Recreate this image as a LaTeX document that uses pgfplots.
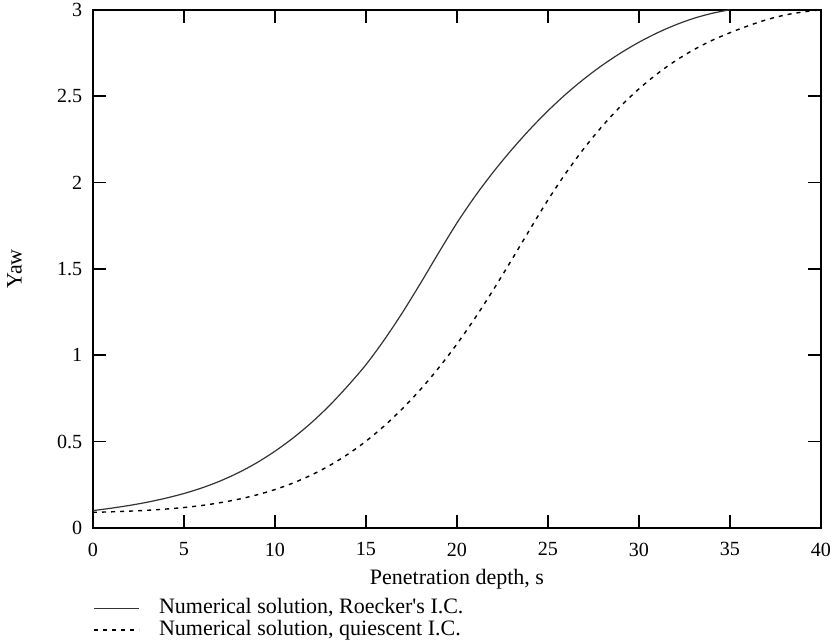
\documentclass[border=0pt,11pt]{standalone}
\usepackage{pgfplots}
\pgfplotsset{compat=1.18}
\usepackage{fontspec}
\setmainfont{Liberation Serif}[Ligatures=TeXOff]
\begin{document}
\begin{tikzpicture}
\begin{axis}[
  scale only axis,
  width=362.5pt, height=258pt,
  xmin=0, xmax=40, ymin=0, ymax=3,
  xtick={0,5,...,40},
  ytick={0,0.5,1,1.5,2,2.5,3},
  yticklabels={0,0.5,1,1.5,2,2.5,3},
  /pgf/number format/assume math mode=true,
  tick label style={font=\fontsize{10}{12}\selectfont},
  xticklabel style={inner xsep=0pt, yshift=-3.5pt},
  yticklabel style={inner ysep=1.5pt, xshift=-1.5pt},
  tick align=inside,
  major tick length=6.5pt,
  axis line style={line width=1pt},
  every tick/.style={black, line width=0.8pt},
  xlabel={Penetration depth, s},
  ylabel={Yaw},
  x label style={at={(axis description cs:0.5,-0.1085)}, anchor=base},
  y label style={at={(axis description cs:-0.1076,0.5)}, anchor=center},
  legend style={draw=none, fill=none, at={(axis description cs:0,-0.1337)}, anchor=north west,
    inner xsep=0pt, inner ysep=0pt, row sep=0.5pt,
    nodes={inner sep=0pt, text height=8pt, text depth=2.5pt},
    /tikz/every odd column/.append style={column sep=9.5pt}},
  legend cell align=left,
  legend image code/.code={\draw[#1] (0pt,0pt) -- (22.5pt,0pt);},
]
\addplot[black!80, line width=0.6pt, smooth] coordinates {
(0,0.100) (1,0.114) (2,0.130) (3,0.149) (4,0.172) (5,0.199) (6,0.232) (7,0.272) (8,0.320)
(9,0.377) (10,0.444) (11,0.521) (12,0.609) (13,0.709) (14,0.822) (15,0.945) (16,1.088)
(17,1.246) (18,1.417) (19,1.594) (20,1.766) (21,1.921) (22,2.061) (23,2.189) (24,2.307)
(25,2.415) (26,2.513) (27,2.601) (28,2.680) (29,2.750) (30,2.812) (31,2.866) (32,2.912)
(33,2.950) (34,2.979) (35,3.000)
};
\addlegendentry{Numerical solution, Roecker's I.C.}
\addplot[black, line width=0.7pt, smooth, dash pattern=on 2pt off 2.5pt] coordinates {
(0,0.090) (1,0.093) (2,0.097) (3,0.102) (4,0.109) (5,0.118) (6,0.130) (7,0.146) (8,0.166)
(9,0.191) (10,0.222) (11,0.260) (12,0.306) (13,0.361) (14,0.426) (15,0.502) (16,0.590)
(17,0.690) (18,0.802) (19,0.927) (20,1.065) (21,1.216) (22,1.379) (23,1.551) (24,1.727)
(25,1.899) (26,2.057) (27,2.200) (28,2.328) (29,2.442) (30,2.542) (31,2.629) (32,2.704)
(33,2.768) (34,2.822) (35,2.867) (36,2.907) (37,2.942) (38,2.969) (39,2.987) (40,3.000)
};
\addlegendentry{Numerical solution, quiescent I.C.}
\path (axis description cs:0,0) ++(0pt,-61.5pt);
\end{axis}
\end{tikzpicture}
\end{document}
